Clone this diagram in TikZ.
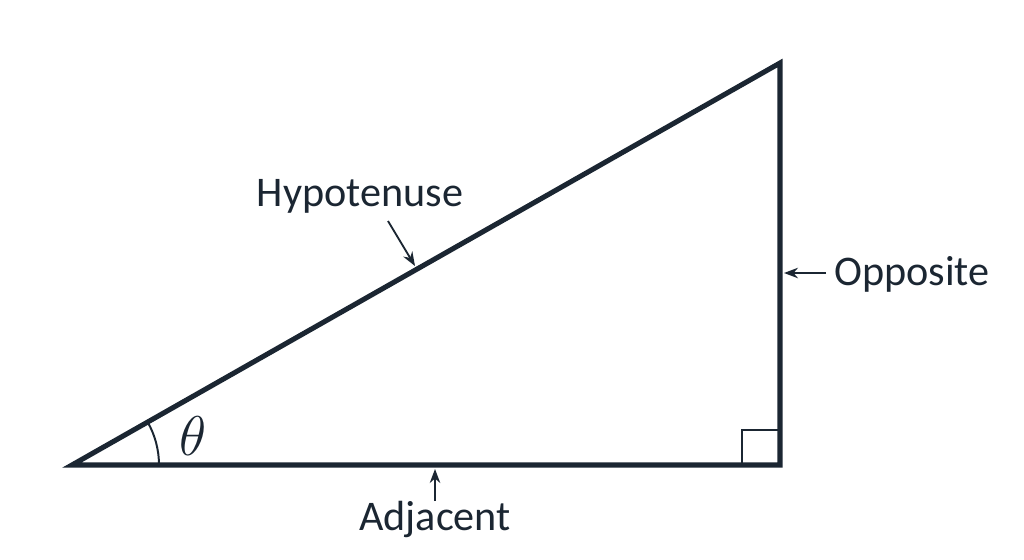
\documentclass[tikz,border=0pt]{standalone}
\usepackage{fontspec}
\setmainfont{Carlito}
\usetikzlibrary{arrows.meta}

\definecolor{inkblue}{RGB}{27,38,50}

\begin{document}
\begin{tikzpicture}[x=0.025cm, y=-0.025cm, >={Stealth[length=10pt,width=7.5pt]}, line join=miter,
		side/.style={draw=inkblue, line width=3.6pt},
		pointer/.style={->, draw=inkblue, line width=1.3pt},
		lbl/.style={text=inkblue, inner sep=0pt, font=\fontsize{30}{36}\selectfont}]
		\useasboundingbox (0,0) rectangle (1024,559);
		
		%% corners of the triangle
		\coordinate (A) at (72,465);
		\coordinate (B) at (780,465);
		\coordinate (C) at (780,63);
		
		\draw[side] (A) -- (B) -- (C) -- cycle;
		
		%% right angle and angle mark
		\draw[inkblue, line width=1.2pt] (742,465) -- (742,430) -- (780,430);
		\draw[inkblue, line width=1.4pt] (A) ++(0:87) arc (0:-29.6:87);
		\node[text=inkblue, font=\Huge, scale=1.6] (theta) at (193,436) {$\theta$};
		
		%% labels
		\node[lbl] (hyp) at (360,196) {Hypotenuse};
		\node[lbl, anchor=west] (opp) at (834,274) {Opposite};
		\node[lbl] (adj) at (435,519) {Adjacent};
		
		\coordinate (hypTail) at (388,221);
		\coordinate (hypTip) at (415,266);
		\coordinate (oppTail) at (826,273);
		\coordinate (oppTip) at (784,273);
		\coordinate (adjTail) at (435,501);
		\coordinate (adjTip) at (435,469);
		
		\draw[pointer] (hypTail) -- (hypTip);
		\draw[pointer] (oppTail) -- (oppTip);
		\draw[pointer] (adjTail) -- (adjTip);
	\end{tikzpicture}
\end{document}
